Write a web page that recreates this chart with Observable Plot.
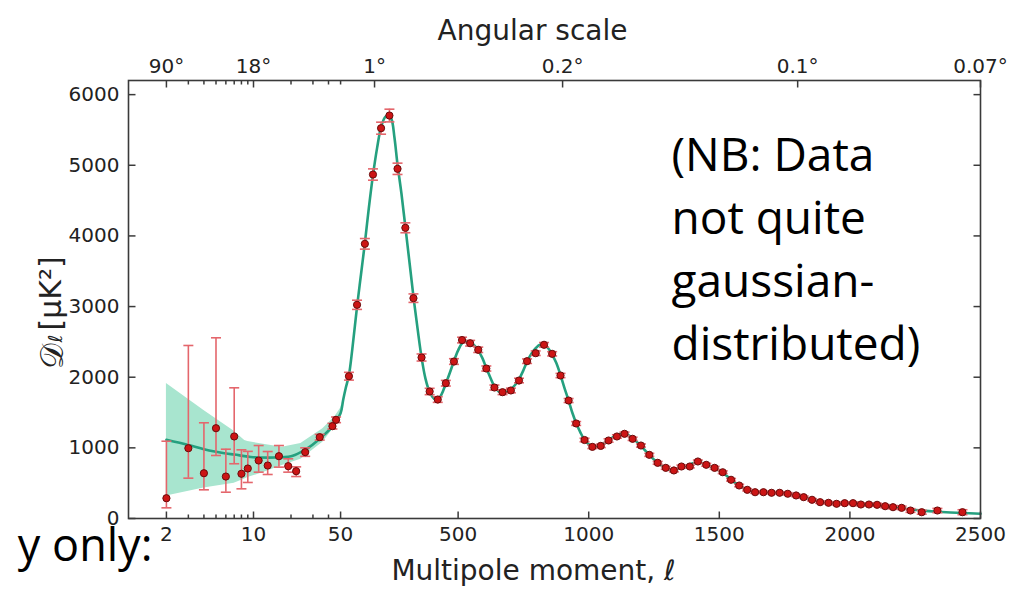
<!DOCTYPE html>
<html><head><meta charset="utf-8">
<script src="https://cdn.jsdelivr.net/npm/d3@7"></script>
<script src="https://cdn.jsdelivr.net/npm/@observablehq/plot@0.6"></script>
<style>body{margin:0;background:#fff;}#chart svg{display:block;}</style>
</head><body><div id="chart"></div>
<script>
// ---- Data ----
const lowEll = [2,3,4,5,6,7,8,9,11,13,16,19,22,26,34,43,46];
const lowD   = [287,995,641,1278,594,1161,633,708,821,750,882,741,670,939,1151,1307,1397];
const lowLo  = [151,571,406,892,372,775,420,510,656,623,727,656,594,880,1110,1267,1357];
const lowHi  = [1094,2449,1355,2558,981,1850,972,950,1033,948,1033,845,731,1000,1191,1347,1437];

const highEll = [82,113,143,174,205,237,268,298,329,360,391,422,453,484,515,546,577,608,639,670,
  702,733,764,797,829,860,892,923,952,984,1014,1046,1076,1108,1137,1168,1200,1232,1264,1295,
  1326,1355,1387,1418,1450,1482,1513,1545,1576,1607,1637,1669,1700,1731,1762,1794,1823,1855,1886,1918,
  1949,1980,2012,2042,2073,2104,2135,2165,2198,2232,2275,2335,2431];
const highD = [2014,3025,3888,4869,5525,5704,4950,4115,3119,2279,1798,1684,1915,2222,2526,2481,2388,2123,1854,1788,
  1812,1953,2227,2340,2459,2331,2024,1670,1345,1111,1014,1028,1104,1161,1199,1128,1033,901,788,717,
  680,736,736,807,760,717,655,548,467,406,372,372,364,364,350,326,302,265,231,222,
  208,217,217,198,198,194,174,160,151,113,89,113,89];
const highErr = [55,65,75,80,85,90,80,70,60,50,45,40,40,40,40,40,38,36,35,34,
  33,32,32,32,32,30,30,28,27,25,24,24,24,24,24,23,22,22,20,20,
  20,20,20,20,20,20,19,18,17,16,16,16,16,16,16,16,16,16,16,17,
  17,18,18,19,20,21,22,23,24,26,28,30,35];

const modelEll = [2,3,4,5,6,7,8,9.5,13,17,20,24,28,32,36,41,45,50,60,70,82,95,113,128,143,158,174,190,205,220,232,245,256,268,283,298,314,329,345,360,375,391,407,422,437,453,469,484,500,515,530,546,562,577,593,608,624,639,655,670,686,702,718,733,749,764,780,797,813,829,845,860,876,892,907,923,938,952,968,984,1000,1014,1030,1046,1061,1076,1092,1108,1122,1137,1152,1168,1184,1200,1216,1232,1248,1264,1280,1295,1311,1326,1341,1355,1371,1387,1402,1418,1434,1450,1466,1482,1498,1513,1529,1545,1560,1576,1592,1607,1622,1637,1653,1669,1685,1700,1731,1762,1794,1823,1855,1886,1918,1949,1980,2012,2042,2073,2104,2135,2165,2198,2232,2275,2335,2431,2500];
const modelD = [1114,1040,981,945,920,905,890,870,862,868,880,940,1010,1090,1170,1260,1360,1490,1680,1850,2030,2400,3000,3450,3900,4390,4860,5250,5540,5680,5710,5650,5400,5010,4600,4130,3620,3140,2680,2280,1980,1790,1700,1680,1760,1910,2070,2230,2380,2480,2510,2490,2450,2380,2270,2130,1990,1870,1800,1780,1790,1830,1890,1970,2090,2220,2330,2410,2460,2460,2410,2320,2200,2030,1850,1670,1490,1350,1220,1110,1050,1020,1015,1035,1070,1110,1150,1180,1200,1200,1180,1135,1085,1030,965,900,840,785,745,715,695,690,700,720,745,765,785,790,785,765,740,710,680,650,600,550,505,465,432,405,388,376,371,369,366,363,358,346,325,300,268,240,223,214,212,210,203,196,186,172,158,144,128,112,96,78,68];

const bandEll = [2,4,7,8.5,9,12,17,24,36,45,50,56];
const bandLo  = [320,430,500,560,580,650,750,840,1080,1300,1420,1560];
const bandHi  = [1910,1530,1236,1104,1090,1050,1010,1060,1270,1440,1560,1640];

const bottomTickEll = [2,10,50,500,1000,1500,2000,2500];
const bottomTickLabels = ["2","10","50","500","1000","1500","2000","2500"];
const minorTickEll = [3,4,5,6,7,8,9,20,30,40];
const topTickEll = [2,10,180,900,1800,2500];
const topTickLabels = ["90°","18°","1°","0.2°","0.1°","0.07°"];
const topMinorEll = [3,4,5,6,7,8,9,20,30,40,50];
const yTicks = [0,1000,2000,3000,4000,5000,6000];

// ---- hybrid axis: log for ℓ<50, linear above ----
const u = l => l >= 50 ? l : 50 + 477 * Math.log10(l / 50);

const low = lowEll.map((l,i) => ({u: u(l), d: lowD[i], lo: lowLo[i], hi: lowHi[i]}));
const high = highEll.map((l,i) => ({u: u(l), d: highD[i], lo: highD[i]-highErr[i], hi: highD[i]+highErr[i]}));
const pts = low.concat(high);
const model = modelEll.map((l,i) => ({u: u(l), d: modelD[i]}));
const band = bandEll.map((l,i) => ({u: u(l), lo: bandLo[i], hi: bandHi[i]}));

const bMap = new Map(bottomTickEll.map((l,i) => [u(l), bottomTickLabels[i]]));
const tMap = new Map(topTickEll.map((l,i) => [u(l), topTickLabels[i]]));

const sym = (dx, dy) => ({draw(ctx, size){ const r = Math.sqrt(size/Math.PI); ctx.moveTo(0,0); ctx.lineTo(dx*r, dy*r); }});
const hcap = {draw(ctx, size){ const r = Math.sqrt(size/Math.PI); ctx.moveTo(-r,0); ctx.lineTo(r,0); }};
const axisColor = "#3a3a3a";

const chart = Plot.plot({
  width: 1018, height: 595,
  marginTop: 80, marginBottom: 77, marginLeft: 128, marginRight: 38,
  style: {fontFamily: "DejaVu Sans", fontSize: "20px", background: "#fff", color: "#222"},
  x: {type: "linear", domain: [-762, 2500]},
  y: {type: "linear", domain: [0, 6200]},
  marks: [
    Plot.areaY(band, {x: "u", y1: "lo", y2: "hi", fill: "#a8e5cf"}),
    Plot.line(model, {x: "u", y: "d", stroke: "#25a07f", strokeWidth: 2.6, curve: "catmull-rom"}),
    Plot.ruleX(pts, {x: "u", y1: "lo", y2: "hi", stroke: "#e4666c", strokeWidth: 1.6}),
    Plot.dot(pts, {x: "u", y: "lo", symbol: hcap, r: 5, stroke: "#e4666c", strokeWidth: 1.6}),
    Plot.dot(pts, {x: "u", y: "hi", symbol: hcap, r: 5, stroke: "#e4666c", strokeWidth: 1.6}),
    Plot.dot(pts, {x: "u", y: "d", r: 3.6, fill: "#cc1515", stroke: "#6a0c0c", strokeWidth: 1}),
    Plot.frame({stroke: axisColor, strokeWidth: 1.6}),
    // inward tick marks
    Plot.dot(bottomTickEll.map(u), {x: d => d, frameAnchor: "bottom", symbol: sym(0,-1), r: 7, stroke: axisColor}),
    Plot.dot(minorTickEll.map(u), {x: d => d, frameAnchor: "bottom", symbol: sym(0,-1), r: 4, stroke: axisColor}),
    Plot.dot(topTickEll.map(u), {x: d => d, frameAnchor: "top", symbol: sym(0,1), r: 7, stroke: axisColor}),
    Plot.dot(topMinorEll.map(u), {x: d => d, frameAnchor: "top", symbol: sym(0,1), r: 4, stroke: axisColor}),
    Plot.dot(yTicks, {y: d => d, frameAnchor: "left", symbol: sym(1,0), r: 7, stroke: axisColor}),
    Plot.dot(yTicks, {y: d => d, frameAnchor: "right", symbol: sym(-1,0), r: 7, stroke: axisColor}),
    // axes labels
    Plot.axisX({anchor: "bottom", ticks: bottomTickEll.map(u), tickSize: 0, tickPadding: 8, tickFormat: d => bMap.get(d), label: null, fontSize: 20}),
    Plot.axisX({anchor: "top", ticks: topTickEll.map(u), tickSize: 0, tickPadding: 8, tickFormat: d => tMap.get(d), label: null, fontSize: 20}),
    Plot.axisY({anchor: "left", ticks: yTicks, tickSize: 0, tickPadding: 9, tickFormat: d => String(d), label: null, fontSize: 20}),
    // titles
    Plot.text(["Angular scale"], {frameAnchor: "top", dx: -22, dy: -60, text: d => d, fontSize: 28, fill: "#222"}),
    Plot.text(["Multipole moment, ℓ"], {frameAnchor: "bottom", dx: -21, dy: 61, text: d => d, fontSize: 28, fill: "#222"}),
    // y label: 𝒟 with subscript ℓ, then [μK²]
    Plot.text(["𝒟"], {frameAnchor: "top-left", dx: -88, dy: 288, rotate: -90, textAnchor: "start", text: d => d, fontSize: 32, fill: "#222"}),
    Plot.text(["ℓ"], {frameAnchor: "top-left", dx: -80, dy: 262, rotate: -90, textAnchor: "start", text: d => d, fontSize: 19, fill: "#222"}),
    Plot.text(["[μK²]"], {frameAnchor: "top-left", dx: -89, dy: 250, rotate: -90, textAnchor: "start", text: d => d, fontSize: 30, fill: "#222"}),
    // slide annotations
    Plot.text(["(NB: Data\nnot quite\ngaussian-\ndistributed)"], {frameAnchor: "top-left", dx: 543, dy: 46, lineAnchor: "top", textAnchor: "start", lineHeight: 1.37, text: d => d, fontFamily: "Open Sans", fontSize: 46, fill: "#000"}),
    Plot.text(["y only:"], {frameAnchor: "bottom-left", dx: 24, dy: 42, textAnchor: "end", text: d => d, fontFamily: "Open Sans", fontSize: 45, fill: "#000"})
  ]
});
document.getElementById("chart").appendChild(chart);
</script>
</body></html>
